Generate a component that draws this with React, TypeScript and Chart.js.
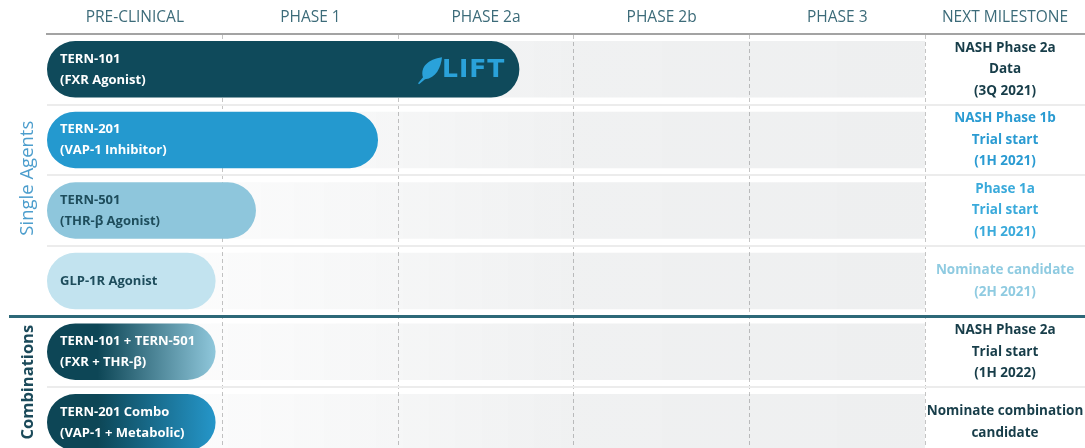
import React, { useEffect, useRef } from 'react';
import { Chart, registerables } from 'chart.js';

Chart.register(...registerables);

// ---------- data ----------
const phaseHeaders = ['PRE-CLINICAL', 'PHASE 1', 'PHASE 2a', 'PHASE 2b', 'PHASE 3'];
const milestoneHeader = 'NEXT MILESTONE';

const programNames: string[][] = [
  ['TERN-101', '(FXR Agonist)'],
  ['TERN-201', '(VAP-1 Inhibitor)'],
  ['TERN-501', '(THR-β Agonist)'],
  ['GLP-1R Agonist'],
  ['TERN-101 + TERN-501', '(FXR + THR-β)'],
  ['TERN-201 Combo', '(VAP-1 + Metabolic)'],
];

// progress measured in phase units (0 = start of pre-clinical, 5 = end of phase 3)
const progress = [2.69, 1.885, 1.19, 0.96, 0.96, 0.96];

const milestones: string[][] = [
  ['NASH Phase 2a', 'Data', '(3Q 2021)'],
  ['NASH Phase 1b', 'Trial start', '(1H 2021)'],
  ['Phase 1a', 'Trial start', '(1H 2021)'],
  ['Nominate candidate', '(2H 2021)'],
  ['NASH Phase 2a', 'Trial start', '(1H 2022)'],
  ['Nominate combination', 'candidate'],
];

const groupNames = ['Single Agents', 'Combinations'];
const groupFirstRow = [0, 4];
const groupLastRow = [3, 5];

const badgeText = 'LIFT';
const badgeRow = 0;

// ---------- styles ----------
const barStart = ['#0f4a5b', '#2499cf', '#8ec6dc', '#c2e3ef', '#0d4656', '#0d4656'];
const barEnd = ['#0f4a5b', '#2499cf', '#8ec6dc', '#c2e3ef', '#8fc7db', '#2596c9'];
const barTextColor = ['#ffffff', '#ffffff', '#1e4d5c', '#1e4d5c', '#ffffff', '#ffffff'];
const milestoneColor = ['#173d49', '#2a9bd2', '#3aaadb', '#8fcbe1', '#173d49', '#173d49'];
const groupColor = ['#4d9ecd', '#1b4a5a'];
const groupBold = [false, true];
const headerColor = '#3c6b79';
const FONT = '"Open Sans", "Noto Sans", sans-serif';

export default function App() {
  const canvasRef = useRef<HTMLCanvasElement | null>(null);

  useEffect(() => {
    const canvas = canvasRef.current;
    if (!canvas) return;
    const nPhases = phaseHeaders.length;

    const overlay = {
      id: 'pipelineOverlay',
      afterDatasetsDraw(chart: any) {
        const { ctx, chartArea, scales } = chart;
        const xs = scales.x;
        const ys = scales.y;
        const x0 = xs.getPixelForValue(0);
        ctx.save();

        // thick group separator
        const sepY = ys.getPixelForValue(groupLastRow[0] + 0.5);
        ctx.strokeStyle = '#2d6878';
        ctx.lineWidth = 3;
        ctx.beginPath();
        ctx.moveTo(9, sepY);
        ctx.lineTo(chartArea.right, sepY);
        ctx.stroke();

        // bar labels
        ctx.textBaseline = 'middle';
        ctx.textAlign = 'left';
        ctx.font = `bold 13px ${FONT}`;
        programNames.forEach((lines, i) => {
          const cy = ys.getPixelForValue(i);
          const lh = 21;
          ctx.fillStyle = barTextColor[i];
          lines.forEach((t, k) => {
            const y = cy + (k - (lines.length - 1) / 2) * lh;
            ctx.fillText(t, x0 + 13, y);
          });
        });

        // milestone texts
        const mx = (xs.getPixelForValue(nPhases) + chartArea.right) / 2;
        ctx.textAlign = 'center';
        ctx.font = `bold 13.5px ${FONT}`;
        milestones.forEach((lines, i) => {
          const cy = ys.getPixelForValue(i);
          const lh = 21.5;
          ctx.fillStyle = milestoneColor[i];
          lines.forEach((t, k) => {
            const y = cy + (k - (lines.length - 1) / 2) * lh;
            ctx.fillText(t, mx, y);
          });
        });

        // headers
        ctx.font = `15.5px ${FONT}`;
        ctx.fillStyle = headerColor;
        phaseHeaders.forEach((h, k) => {
          ctx.fillText(h, xs.getPixelForValue(k + 0.5), 18);
        });
        ctx.fillText(milestoneHeader, mx, 18);

        // group labels (rotated)
        groupNames.forEach((g, k) => {
          const top = ys.getPixelForValue(groupFirstRow[k] - 0.5);
          const bottom = Math.min(ys.getPixelForValue(groupLastRow[k] + 0.5), chartArea.bottom);
          const cy = (top + bottom) / 2 + (k === 0 ? 3 : 0);
          ctx.save();
          ctx.translate(28, cy);
          ctx.rotate(-Math.PI / 2);
          ctx.font = `${groupBold[k] ? 'bold ' : ''}${groupBold[k] ? 16.5 : 18.5}px ${FONT}`;
          ctx.fillStyle = groupColor[k];
          ctx.textAlign = 'center';
          ctx.fillText(g, 0, 0);
          ctx.restore();
        });

        // badge on the leading bar
        const bx = xs.getPixelForValue(progress[badgeRow]) - 14;
        const by = ys.getPixelForValue(badgeRow);
        ctx.font = `bold 25px "DejaVu Sans", sans-serif`;
        ctx.textAlign = 'right';
        ctx.fillStyle = '#2aa2da';
        (ctx as any).letterSpacing = '1px';
        ctx.fillText(badgeText, bx, by + 1);
        (ctx as any).letterSpacing = '0px';
        const tw = ctx.measureText(badgeText).width + 4;
        const lx = bx - tw - 2;
        // leaf mark
        ctx.beginPath();
        ctx.moveTo(lx - 22, by + 14);
        ctx.lineTo(lx - 17, by + 8);
        ctx.bezierCurveTo(lx - 20, by - 2, lx - 12, by - 10, lx + 2, by - 12);
        ctx.bezierCurveTo(lx + 1, by - 2, lx - 4, by + 9, lx - 15, by + 10);
        ctx.lineTo(lx - 21, by + 15);
        ctx.closePath();
        ctx.fill();

        ctx.restore();
      },
    };

    const chart = new Chart(canvas, {
      type: 'bar',
      data: {
        datasets: [
          {
            label: 'progress',
            data: progress.map((v, i) => ({ x: v, y: i })),
            order: 1,
            backgroundColor: (c: any) => {
              const i = c.dataIndex;
              const chartObj = c.chart;
              if (!chartObj.chartArea || i === undefined) return barStart[i ?? 0];
              if (barStart[i] === barEnd[i]) return barStart[i];
              const xs = chartObj.scales.x;
              const g = chartObj.ctx.createLinearGradient(xs.getPixelForValue(0), 0, xs.getPixelForValue(progress[i]), 0);
              g.addColorStop(0, barStart[i]);
              g.addColorStop(0.3, barStart[i]);
              g.addColorStop(1, barEnd[i]);
              return g;
            },
            borderRadius: 40,
            borderSkipped: false,
            grouped: false,
            barPercentage: 0.8,
            categoryPercentage: 1,
          } as any,
          {
            label: 'track',
            data: programNames.map((_, i) => ({ x: nPhases, y: i })),
            order: 2,
            backgroundColor: (c: any) => {
              const chartObj = c.chart;
              if (!chartObj.chartArea) return 'rgba(40,50,60,0.06)';
              const xs = chartObj.scales.x;
              const g = chartObj.ctx.createLinearGradient(xs.getPixelForValue(0), 0, xs.getPixelForValue(nPhases), 0);
              g.addColorStop(0, 'rgba(40,55,65,0.0)');
              g.addColorStop(0.3, 'rgba(40,55,65,0.03)');
              g.addColorStop(0.6, 'rgba(40,55,65,0.07)');
              g.addColorStop(1, 'rgba(40,55,65,0.08)');
              return g;
            },
            borderRadius: 0,
            borderSkipped: false,
            grouped: false,
            barPercentage: 0.8,
            categoryPercentage: 1,
          } as any,
        ],
      },
      options: {
        indexAxis: 'y',
        animation: false,
        responsive: true,
        maintainAspectRatio: false,
        layout: { padding: { left: 47, top: 34, right: 0, bottom: 0 } },
        plugins: {
          legend: { display: false },
          tooltip: { enabled: false },
          title: { display: false },
        },
        scales: {
          x: {
            type: 'linear',
            position: 'top',
            min: 0,
            max: 5.911,
            offset: false,
            afterBuildTicks: (axis: any) => {
              axis.ticks = [1, 2, 3, 4, 5].map((v) => ({ value: v }));
            },
            ticks: { display: false },
            grid: { display: true, offset: false, color: '#c4c4c4', lineWidth: 1, drawTicks: false },
            border: { display: true, color: '#a3a3a3', width: 2, dash: [4, 3] },
          },
          y: {
            type: 'linear',
            reverse: true,
            min: -0.5,
            max: 5.364,
            offset: false,
            afterBuildTicks: (axis: any) => {
              axis.ticks = [0.5, 1.5, 2.5, 3.5, 4.5].map((v) => ({ value: v }));
            },
            ticks: { display: false },
            grid: {
              display: true,
              offset: false,
              drawTicks: false,
              lineWidth: 2,
              color: (c: any) => (c.tick && c.tick.value === 3.5 ? 'rgba(0,0,0,0)' : '#ececec'),
            },
            border: { display: false },
          },
        },
      } as any,
      plugins: [overlay],
    });

    return () => chart.destroy();
  }, []);

  return (
    <div style={{ position: 'absolute', left: 0, top: 0, width: 1085, height: 448, background: '#ffffff' }}>
      <canvas ref={canvasRef} />
    </div>
  );
}
